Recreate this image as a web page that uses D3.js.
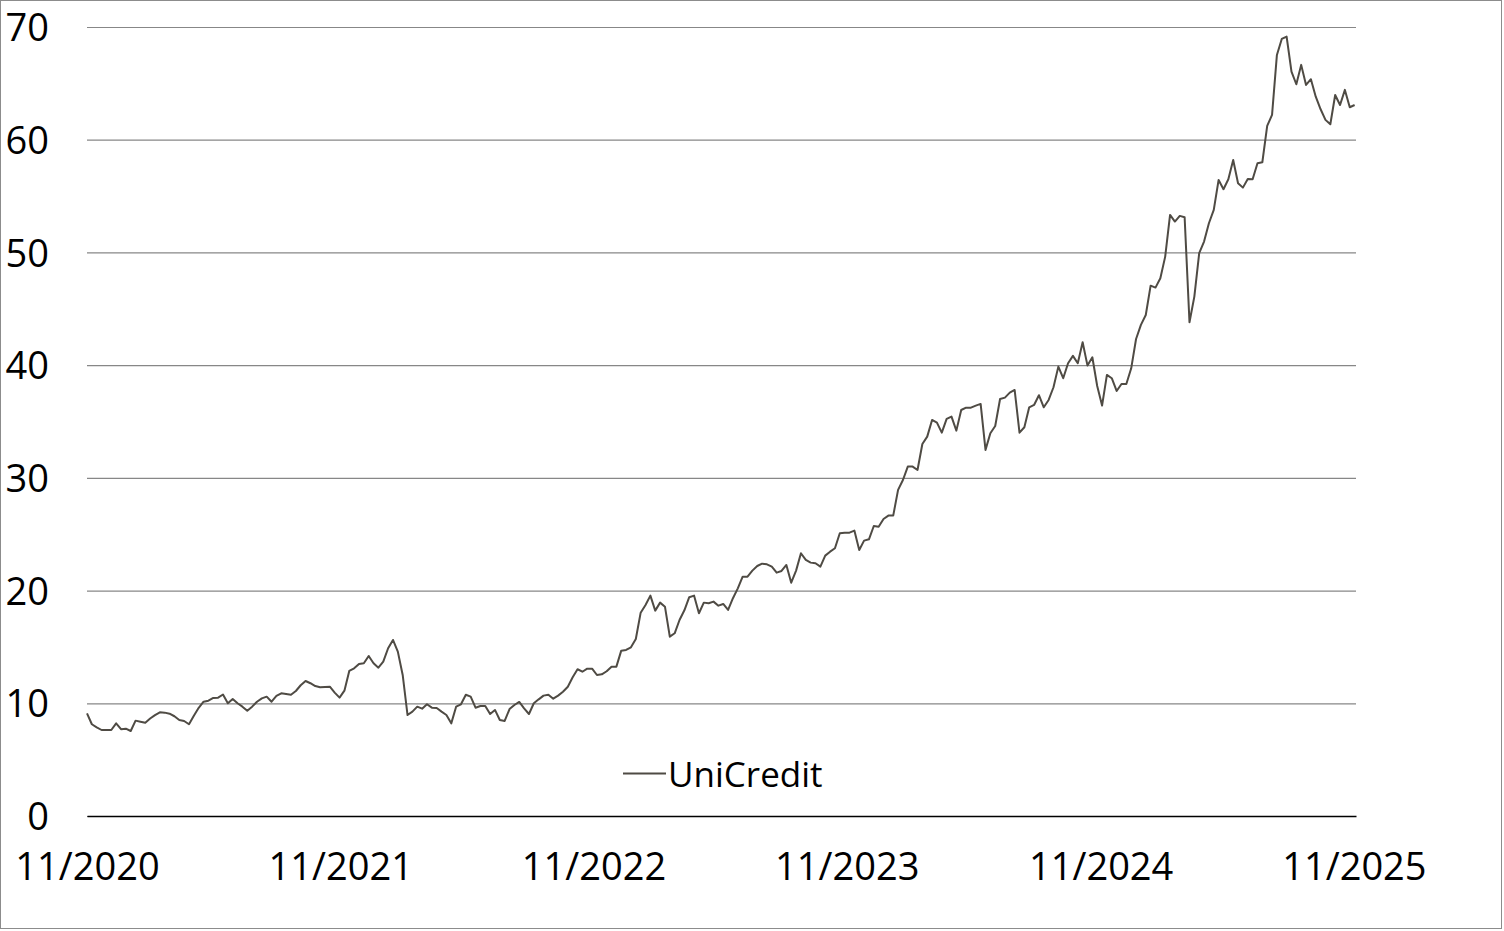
<!DOCTYPE html>
<html>
<head>
<meta charset="utf-8">
<script src="https://cdn.jsdelivr.net/npm/d3@7"></script>
<style>
  body { margin: 0; background: #fff; }
  .chart text { font-family: "Open Sans", sans-serif; fill: #000; }
</style>
</head>
<body>
<div class="chart"></div>
<script>
// weekly closes, first week below
var startDate = "2020-11-13";
var closes = [
  9.11, 8.14, 7.87, 7.63, 7.63, 7.63, 8.22, 7.70, 7.75, 7.54,
  8.46, 8.37, 8.28, 8.65, 8.95, 9.20, 9.17, 9.08, 8.85, 8.52,
  8.43, 8.14, 8.90, 9.60, 10.14, 10.23, 10.47, 10.50, 10.78, 10.00,
  10.38, 10.00, 9.70, 9.34, 9.70, 10.14, 10.44, 10.59, 10.14, 10.65,
  10.89, 10.83, 10.76, 11.09, 11.60, 11.98, 11.78, 11.53, 11.42, 11.45,
  11.47, 10.95, 10.50, 11.12, 12.87, 13.10, 13.49, 13.55, 14.20, 13.55,
  13.16, 13.69, 14.88, 15.62, 14.58, 12.51, 8.96, 9.26, 9.70, 9.52,
  9.91, 9.61, 9.58, 9.26, 8.96, 8.22, 9.70, 9.91, 10.76, 10.59,
  9.61, 9.76, 9.76, 9.05, 9.41, 8.52, 8.43, 9.49, 9.85, 10.12,
  9.55, 9.05, 10.00, 10.35, 10.68, 10.76, 10.41, 10.68, 11.03, 11.47,
  12.31, 13.02, 12.80, 13.07, 13.07, 12.51, 12.57, 12.84, 13.25, 13.25,
  14.67, 14.73, 14.97, 15.70, 18.04, 18.72, 19.55, 18.22, 18.93, 18.57,
  15.91, 16.21, 17.39, 18.25, 19.41, 19.55, 17.99, 18.93, 18.87, 19.02,
  18.66, 18.81, 18.28, 19.32, 20.20, 21.23, 21.23, 21.77, 22.18, 22.39,
  22.33, 22.12, 21.59, 21.74, 22.27, 20.70, 21.77, 23.31, 22.72, 22.48,
  22.42, 22.12, 23.10, 23.45, 23.75, 25.08, 25.14, 25.14, 25.32, 23.60,
  24.43, 24.55, 25.73, 25.67, 26.35, 26.65, 26.65, 28.93, 29.81, 31.00,
  31.00, 30.70, 33.00, 33.66, 35.14, 34.90, 34.01, 35.23, 35.43, 34.19,
  36.02, 36.23, 36.23, 36.41, 36.56, 32.48, 33.96, 34.60, 37.00, 37.12,
  37.56, 37.80, 34.01, 34.49, 36.26, 36.47, 37.33, 36.26, 36.91, 38.04,
  39.87, 38.84, 40.17, 40.82, 40.17, 42.03, 39.96, 40.70, 38.15, 36.41,
  39.13, 38.84, 37.71, 38.33, 38.33, 39.72, 42.32, 43.57, 44.45, 47.05,
  46.88, 47.71, 49.63, 53.33, 52.74, 53.24, 53.12, 43.81, 46.08, 49.93,
  50.96, 52.59, 53.77, 56.43, 55.61, 56.49, 58.20, 56.14, 55.75, 56.52,
  56.49, 57.91, 58.00, 61.22, 62.20, 67.52, 68.94, 69.15, 66.04, 64.92,
  66.64, 64.86, 65.37, 63.82, 62.70, 61.76, 61.37, 63.97, 63.08, 64.42,
  62.88, 63.08
];
var seriesName = "UniCredit";
var yTicks = [0, 10, 20, 30, 40, 50, 60, 70];
var xTickDates = ["2020-11-13", "2021-11-13", "2022-11-13", "2023-11-13", "2024-11-13", "2025-11-13"];
var xTickLabels = ["11/2020", "11/2021", "11/2022", "11/2023", "11/2024", "11/2025"];

var parse = d3.timeParse("%Y-%m-%d");
var start = parse(startDate);
var data = closes.map(function(v, i){
  return { date: d3.timeDay.offset(start, i * 7), value: v };
});

var W = 1504, H = 931;
var plotLeft = 87, plotRight = 1356, plotTop = 27, plotBottom = 816;

var svg = d3.select(".chart").append("svg")
            .attr("width", W)
            .attr("height", H);

// outer frame
svg.append("rect")
   .attr("x", 0.5)
   .attr("y", 0.5)
   .attr("width", 1501)
   .attr("height", 928)
   .style("fill", "none")
   .style("stroke", "#8c8c8c")
   .style("stroke-width", 1);

var x = d3.scaleTime()
          .domain([parse("2020-11-13"), parse("2025-11-16")])
          .range([plotLeft, plotRight]);

var y = d3.scaleLinear()
          .domain([0, 70])
          .range([plotBottom, plotTop]);

// gridlines + y labels
var yAxis = svg.append("g")
   .attr("transform", "translate(" + plotLeft + ",0)")
   .call(d3.axisLeft(y)
           .tickValues(yTicks)
           .tickSize(-(plotRight - plotLeft))
           .tickPadding(38)
           .tickFormat(d3.format("d")));

yAxis.select(".domain").remove();
yAxis.selectAll(".tick line")
     .style("stroke", "#878787")
     .style("stroke-width", 1.2);
yAxis.selectAll(".tick text")
     .attr("font-size", "38px")
     .attr("dy", "0.36em");

// x axis
var xAxis = svg.append("g")
   .attr("transform", "translate(0," + plotBottom + ")")
   .call(d3.axisBottom(x)
           .tickValues(xTickDates.map(parse))
           .tickSize(0)
           .tickSizeOuter(0)
           .tickPadding(0)
           .tickFormat(function(d, i){ return xTickLabels[i]; }));

xAxis.select(".domain")
     .style("stroke", "#000")
     .style("stroke-width", 1.4);
xAxis.selectAll(".tick text")
     .attr("font-size", "38px")
     .attr("y", 64)
     .attr("dy", 0);

// series
var line = d3.line()
             .x(function(d){ return x(d.date); })
             .y(function(d){ return y(d.value); });

svg.append("path")
   .datum(data)
   .attr("d", line)
   .style("fill", "none")
   .style("stroke", "#4f4b44")
   .style("stroke-width", 2)
   .style("stroke-linejoin", "round");

// legend
svg.append("line")
   .attr("x1", 623)
   .attr("x2", 666)
   .attr("y1", 773.5)
   .attr("y2", 773.5)
   .style("stroke", "#4f4b44")
   .style("stroke-width", 1.8);

svg.append("text")
   .attr("x", 668)
   .attr("y", 787)
   .attr("font-size", "35px")
   .text(seriesName);
</script>
</body>
</html>
